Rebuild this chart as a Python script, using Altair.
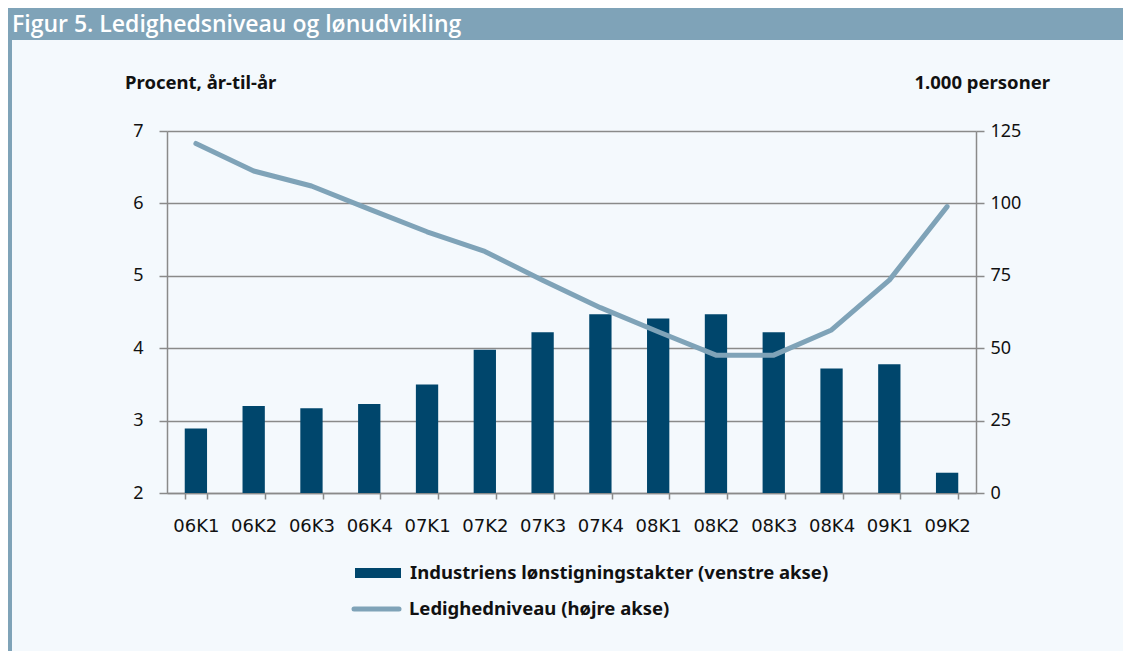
import altair as alt
import pandas as pd

# ---- data ----
quarters = ["06K1", "06K2", "06K3", "06K4", "07K1", "07K2", "07K3",
            "07K4", "08K1", "08K2", "08K3", "08K4", "09K1", "09K2"]
wage_growth = [2.89, 3.20, 3.17, 3.23, 3.50, 3.98, 4.22,
               4.47, 4.41, 4.47, 4.22, 3.72, 3.78, 2.28]
unemployment = [120.7, 111.2, 106.0, 98.0, 90.2, 83.4, 73.5,
                64.0, 55.7, 47.6, 47.6, 56.3, 73.5, 98.9]
left_ticks = [2, 3, 4, 5, 6, 7]
right_ticks = [0, 25, 50, 75, 100, 125]

title_text = "Figur 5. Ledighedsniveau og lønudvikling"
left_title = "Procent, år-til-år"
right_title = "1.000 personer"
bar_label = "Industriens lønstigningstakter (venstre akse)"
line_label = "Ledighedniveau (højre akse)"

# ---- styling ----
BAR = "#00466c"
LINE = "#7fa3b8"
HEADER = "#7fa3b8"
BG = "#f4f9fd"
GRID = "#8a8a8a"
FONT = "Noto Sans"
TXT = "#111111"

W, H = 809, 362
PL, PT = 159, 123
PR = 1115 - W - PL
PB = 643 - H - PT

df = pd.DataFrame({"kvartal": quarters, "lon": wage_growth, "ledighed": unemployment})

x_enc = alt.X(
    "kvartal:N", sort=quarters,
    scale=alt.Scale(paddingInner=0.614, paddingOuter=0.307),
    axis=alt.Axis(title=None, labelAngle=0, tickBand="extent", tickSize=6,
                  tickColor=GRID, tickWidth=1.5, domainColor=GRID, domainWidth=1.5,
                  labelFontSize=18, labelPadding=18, labelColor=TXT,
                  labelFont="DejaVu Sans", grid=False),
)

bars = alt.Chart(df).mark_bar(color=BAR).encode(
    x=x_enc,
    y=alt.Y("lon:Q",
            scale=alt.Scale(domain=[2, 7], zero=False, nice=False),
            axis=alt.Axis(title=None, values=left_ticks, tickSize=8, tickColor=GRID,
                          tickWidth=1.5, domainColor=GRID, domainWidth=1.5,
                          grid=True, gridColor=GRID, gridWidth=1.5,
                          labelFontSize=18, labelPadding=16, labelColor=TXT,
                          labelFont=FONT)),
    y2=alt.datum(2),
)

line = alt.Chart(df).mark_line(color=LINE, strokeWidth=5, strokeCap="round",
                               strokeJoin="round").encode(
    x=alt.X("kvartal:N", sort=quarters),
    y=alt.Y("ledighed:Q",
            scale=alt.Scale(domain=[0, 125], nice=False),
            axis=alt.Axis(title=None, orient="right", values=right_ticks, tickSize=8,
                          tickColor=GRID, tickWidth=1.5, domainColor=GRID,
                          domainWidth=1.5, grid=False, labelFontSize=18,
                          labelPadding=6, labelColor=TXT, labelFont=FONT)),
)

one = alt.Data(values=[{"a": 1}])

header = alt.Chart(one).mark_rect(color=HEADER).encode(
    x=alt.value(-PL), x2=alt.value(W + PR),
    y=alt.value(-PT), y2=alt.value(-91),
)
left_border = alt.Chart(one).mark_rect(color=HEADER).encode(
    x=alt.value(-PL), x2=alt.value(-PL + 4),
    y=alt.value(-91), y2=alt.value(H + PB),
)
header_text = alt.Chart(one).mark_text(
    text=title_text, align="left", baseline="middle", font="Open Sans",
    fontSize=23, fontWeight=600, color="white",
).encode(x=alt.value(-155), y=alt.value(-106))

ltitle = alt.Chart(one).mark_text(
    text=left_title, align="left", baseline="middle", font=FONT,
    fontSize=18.5, fontWeight="bold", color=TXT,
).encode(x=alt.value(-42), y=alt.value(-48))
rtitle = alt.Chart(one).mark_text(
    text=right_title, align="right", baseline="middle", font=FONT,
    fontSize=18.5, fontWeight="bold", color=TXT,
).encode(x=alt.value(883), y=alt.value(-48))

leg_bar = alt.Chart(one).mark_rect(color=BAR).encode(
    x=alt.value(188), x2=alt.value(234), y=alt.value(437), y2=alt.value(447),
)
leg_bar_text = alt.Chart(one).mark_text(
    text=bar_label, align="left", baseline="middle", font=FONT,
    fontSize=18.5, fontWeight="bold", color=TXT,
).encode(x=alt.value(243), y=alt.value(442))
leg_line = alt.Chart(one).mark_rule(color=LINE, strokeWidth=5, strokeCap="round").encode(
    x=alt.value(187), x2=alt.value(232), y=alt.value(478),
)
leg_line_text = alt.Chart(one).mark_text(
    text=line_label, align="left", baseline="middle", font=FONT,
    fontSize=18.5, fontWeight="bold", color=TXT,
).encode(x=alt.value(242), y=alt.value(478))

chart = alt.layer(
    header, left_border, header_text, ltitle, rtitle,
    bars, line,
    leg_bar, leg_bar_text, leg_line, leg_line_text,
).resolve_scale(y="independent").properties(
    width=W, height=H,
    autosize=alt.AutoSizeParams(type="none"),
    padding={"left": PL, "top": PT, "right": PR, "bottom": PB},
    background=BG,
).configure_view(stroke=None)

chart.save("out.html", embed_options={"renderer": "svg", "actions": False})
